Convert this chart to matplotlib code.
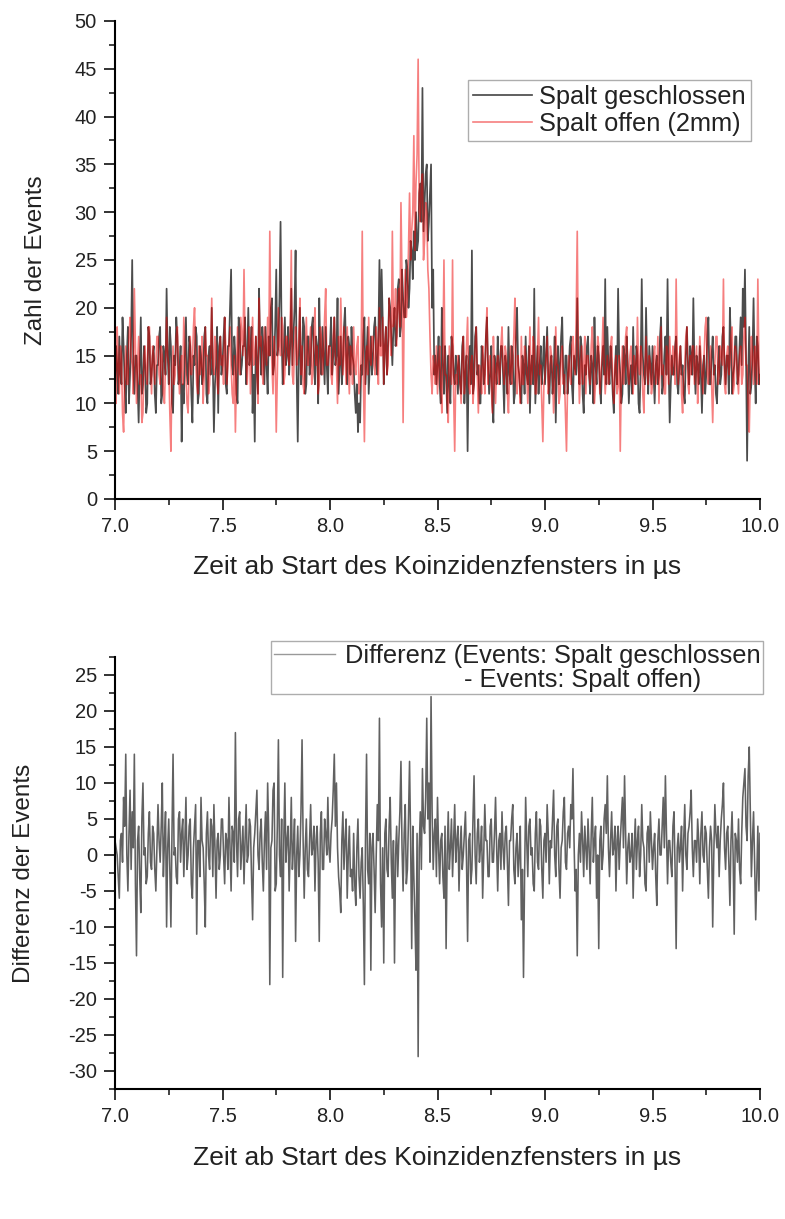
import numpy as np
import matplotlib
matplotlib.use("Agg")
import matplotlib.pyplot as plt
from matplotlib.lines import Line2D
from matplotlib.ticker import MultipleLocator, FormatStrFormatter

plt.rcParams['font.family'] = ['Liberation Sans', 'DejaVu Sans']
plt.rcParams['axes.unicode_minus'] = False

BIN_US = 0.005   # bin width in microseconds
T0_US = 7.0

# Events, slit closed (black), 0.005 us bins from 7.000 us
events_closed = [
    10,16,14,11,17,13,12,19,16,12,9,15,18,10,13,17,25,14,11,15,
    15,12,8,14,19,11,12,16,14,9,10,18,17,12,13,15,16,11,9,14,
    14,17,18,10,11,16,15,13,22,15,12,18,16,10,9,15,14,19,17,12,
    13,16,6,12,10,15,19,13,12,17,16,11,8,15,14,18,17,10,11,16,
    15,12,13,17,18,11,10,15,16,13,20,14,7,12,14,18,9,16,17,13,
    14,17,19,12,11,16,16,20,24,14,13,17,15,11,10,19,18,13,14,16,
    16,19,12,15,20,14,15,18,9,13,6,17,14,11,22,16,13,18,16,12,
    18,14,11,17,15,20,21,13,14,18,24,15,16,21,29,17,12,15,19,14,
    15,18,13,16,22,14,17,20,26,13,6,15,20,12,14,19,18,11,12,17,
    17,13,14,18,19,15,12,17,16,10,21,15,13,18,15,12,18,14,11,16,
    16,19,13,15,19,14,15,21,11,14,17,12,14,18,20,15,12,17,16,13,
    18,15,14,11,9,12,7,10,8,14,13,17,19,12,15,18,11,14,17,13,
    15,18,19,14,13,17,25,16,24,19,12,16,18,13,16,21,20,17,14,18,
    20,16,17,22,23,17,18,24,21,19,19,25,24,20,22,27,26,23,28,25,
    30,26,27,32,33,29,43,28,31,34,35,27,29,32,35,20,24,13,15,12,
    14,17,12,10,20,14,11,16,13,9,15,12,10,17,16,13,12,15,14,11,
    15,12,11,16,17,10,13,15,5,14,16,12,26,11,12,17,18,13,14,10,
    10,16,15,12,13,17,19,14,11,13,16,10,8,15,14,12,17,14,12,16,
    16,13,9,15,14,11,18,13,12,16,15,10,11,17,20,14,13,11,10,15,
    14,11,17,13,12,16,9,14,15,12,22,10,13,16,11,14,16,12,14,17,
    12,15,18,13,10,14,15,11,13,17,8,14,16,12,14,17,19,13,11,15,
    15,11,13,16,17,12,10,15,14,13,21,14,12,17,16,11,9,14,13,16,
    17,13,11,15,14,10,19,14,12,16,15,12,10,14,16,13,23,12,18,14,
    12,16,14,11,9,13,16,12,22,15,13,10,11,16,15,12,17,14,10,13,
    14,11,18,13,12,16,15,10,9,14,23,15,13,12,20,14,11,16,14,12,
    16,13,10,14,15,12,13,17,19,11,12,15,17,13,23,14,8,12,15,13,
    13,16,17,12,11,14,16,13,14,11,10,15,18,14,12,16,15,13,21,14,
    11,15,14,12,16,13,9,14,15,11,13,17,19,12,12,15,17,13,14,11,
    10,14,16,12,13,17,18,14,12,15,15,11,20,16,11,13,14,17,17,12,
    13,16,19,14,22,18,24,15,4,13,18,11,12,15,21,14,10,17,16,12,
    13,
]

# Events, slit open 2 mm (red)
events_open = [
    13,10,18,14,11,16,15,9,7,13,16,12,12,17,19,15,14,11,22,16,
    10,14,17,12,13,8,9,15,16,13,12,18,18,14,11,16,15,12,14,17,
    17,13,12,16,15,11,10,14,19,15,14,9,5,13,16,12,13,17,18,14,
    11,14,15,12,19,16,13,10,9,14,17,13,14,18,20,15,12,11,16,13,
    14,17,10,13,18,15,15,11,12,16,21,14,13,17,16,12,11,15,17,14,
    15,12,19,16,12,14,16,18,14,11,10,15,7,13,18,14,13,19,17,15,
    24,16,14,12,16,18,11,15,19,14,15,17,13,10,21,16,17,13,12,18,
    16,14,19,15,28,17,14,11,17,15,7,13,20,16,15,19,18,12,13,17,
    17,15,14,18,26,13,12,16,18,14,15,17,21,13,16,12,11,15,19,14,
    14,16,18,12,13,17,20,14,16,11,12,18,17,13,15,19,22,14,14,16,
    16,13,12,17,19,15,14,10,17,14,21,16,13,18,15,12,18,14,11,16,
    15,12,18,14,13,16,17,11,12,15,28,13,6,14,16,13,19,15,14,17,
    17,14,13,18,16,12,20,15,15,19,12,16,18,13,14,21,17,15,28,18,
    19,22,16,20,22,18,31,23,8,20,24,19,21,26,32,25,28,30,38,26,
    33,36,46,30,29,33,34,25,27,31,30,24,22,17,13,11,15,14,12,16,
    11,14,16,12,9,15,25,13,13,10,8,16,14,12,25,11,5,13,12,15,
    14,12,10,15,17,11,13,16,19,12,11,14,15,10,12,16,18,13,9,14,
    13,11,16,14,11,17,20,12,14,15,12,9,17,13,10,14,15,12,13,16,
    18,14,12,16,15,11,9,13,16,12,14,17,21,13,11,15,13,10,17,12,
    12,16,15,13,10,14,18,12,13,17,16,11,11,15,19,13,14,10,6,12,
    13,15,17,11,12,16,15,13,9,12,18,14,14,10,11,15,16,12,13,9,
    5,12,15,13,12,16,17,14,13,19,28,15,10,13,16,12,14,17,11,15,
    15,13,12,16,18,14,10,12,14,17,16,11,13,15,19,14,11,13,15,12,
    13,16,17,12,10,14,15,11,12,15,5,13,16,12,14,17,18,13,12,15,
    16,13,11,15,14,12,19,14,13,16,15,11,9,14,17,13,12,15,14,11,
    12,15,16,12,13,17,10,14,18,13,14,11,11,16,15,12,17,14,13,16,
    15,12,23,14,12,15,16,11,9,13,14,17,18,12,11,15,13,16,16,12,
    14,16,10,13,17,15,13,11,15,18,19,13,12,14,16,12,8,13,14,17,
    17,12,13,16,15,14,23,12,11,15,16,13,14,17,18,11,12,16,15,13,
    11,15,16,12,13,17,19,14,14,10,7,13,17,15,12,16,15,12,23,14,
    12,
]

# Difference of events (closed - open)
events_diff = [
    2,1,0,-3,-6,2,3,-1,8,4,14,0,-5,3,9,-2,6,1,14,-4,
    -14,2,4,-3,-8,5,10,0,1,-4,-3,3,6,-1,-2,4,3,-2,-5,1,
    7,2,-1,4,10,-3,2,6,-10,1,5,-2,-10,3,14,0,1,-3,-4,5,
    6,-1,3,5,-3,2,8,-2,0,4,5,-4,-6,1,4,7,-11,2,2,-3,
    8,2,1,-4,-10,3,6,0,-2,5,4,-3,7,1,-6,2,3,-2,0,5,
    5,0,-4,3,2,-2,8,1,-5,4,3,-1,17,2,-3,5,6,-2,1,4,
    -4,2,7,-1,0,5,4,-3,-9,1,3,6,9,0,-2,3,5,-1,-5,2,
    6,-2,10,3,-18,1,2,9,10,-5,-4,4,16,0,-3,5,-17,2,10,-1,
    2,4,-5,1,8,-2,1,5,-12,0,4,-3,0,6,16,2,-6,1,5,-2,
    -3,2,7,0,1,4,-5,2,4,-1,-12,3,6,-2,-2,5,3,0,8,1,
    -1,3,5,9,14,4,10,1,-3,-5,-8,2,6,-2,2,5,-6,0,4,-3,
    -2,-5,3,-4,-7,1,5,-3,-6,-1,1,-7,-18,2,14,-2,-4,3,-16,1,
    3,-2,-8,0,7,2,19,-4,-10,1,-15,3,5,-2,-3,4,8,-1,-6,2,
    -15,0,4,-3,2,6,13,1,-5,3,7,-4,-2,5,13,2,-13,4,-3,-9,
    -16,3,-28,1,6,-2,12,4,3,8,19,5,10,-1,22,6,-2,3,5,-3,
    8,1,-4,2,3,-3,-6,4,-13,0,6,-2,1,5,-3,2,7,-1,2,4,
    -5,1,4,-2,0,3,6,-1,-12,2,3,-4,-2,5,11,0,-4,3,5,-1,
    1,4,-6,0,7,2,2,-3,-3,4,5,-1,-1,3,8,1,-5,2,3,-2,
    6,1,-2,3,4,-1,-7,2,2,5,7,-2,-4,1,3,-3,0,4,-9,-2,
    -17,-3,8,2,-3,4,5,0,1,-4,-5,3,6,-1,-2,5,4,-2,-6,2,
    3,-1,7,3,-4,2,1,5,9,0,-3,4,5,-2,-6,1,2,6,8,-1,
    -2,3,4,1,7,5,12,2,-5,-2,-14,0,3,-1,6,2,-3,4,1,-2,
    5,1,-4,3,8,-1,2,4,-6,0,-13,2,4,-2,0,5,7,3,11,1,
    -3,2,6,0,1,4,-5,2,4,-2,2,5,8,1,11,3,-4,1,3,-1,
    0,3,-6,1,5,-2,2,4,-3,0,7,2,1,-4,-5,3,4,-1,6,2,
    -2,1,3,-3,-7,2,5,0,0,4,8,1,11,3,-4,2,2,-1,-3,4,
    6,-2,-13,1,3,-1,1,4,-5,2,7,0,-2,3,4,6,9,1,-3,2,
    2,-1,5,2,-4,3,6,0,-1,4,3,-2,-6,1,4,2,-10,0,7,3,
    1,4,-3,2,5,7,10,1,-2,3,4,-1,-7,2,6,0,-11,3,2,-1,
    5,-2,-4,3,8,10,12,4,2,11,15,6,-3,2,6,-1,-9,-3,4,-5,
    3,
]

def times(values):
    return T0_US + BIN_US * np.arange(len(values))

label_closed = "Spalt geschlossen"
label_open = "Spalt offen (2mm)"
label_diff_1 = "Differenz (Events: Spalt geschlossen"
label_diff_2 = "                 - Events: Spalt offen)"
xlabel = "Zeit ab Start des Koinzidenzfensters in µs"
ylabel_top = "Zahl der Events"
ylabel_bot = "Differenz der Events"

W, H = 785, 1219
fig = plt.figure(figsize=(W / 100, H / 100), dpi=100)

def px_axes(l, t, r, b):
    return fig.add_axes([l / W, 1 - b / H, (r - l) / W, (b - t) / H])

TICK_FS = 14.5
YLABEL_FS = 17.5
XLABEL_FS = 19
LEG_FS = 18.3
TXT = '#222222'

def style(ax):
    for s in ('top', 'right'):
        ax.spines[s].set_visible(False)
    for s in ('left', 'bottom'):
        ax.spines[s].set_linewidth(1.5)
    ax.tick_params(which='major', direction='out', length=8, width=1.3,
                   labelsize=TICK_FS, pad=5, colors=TXT)
    ax.tick_params(which='minor', direction='out', length=4, width=1.2,
                   colors=TXT)
    ax.set_xlim(7.0, 10.0)
    ax.xaxis.set_major_locator(MultipleLocator(0.5))
    ax.xaxis.set_minor_locator(MultipleLocator(0.25))
    ax.xaxis.set_major_formatter(FormatStrFormatter('%.1f'))

# ---- top panel ----
ax1 = px_axes(115, 21, 760, 499)
style(ax1)
ax1.plot(times(events_closed), events_closed, color='black', lw=1.25,
         alpha=0.7, label=label_closed)
ax1.plot(times(events_open), events_open, color='#ee0000', lw=1.2,
         alpha=0.5, label=label_open)
ax1.set_ylim(0, 50)
ax1.yaxis.set_major_locator(MultipleLocator(5))
ax1.yaxis.set_minor_locator(MultipleLocator(2.5))
ax1.set_xlabel(xlabel, fontsize=XLABEL_FS, labelpad=14, color=TXT)
ax1.set_ylabel(ylabel_top, fontsize=YLABEL_FS, labelpad=20, color=TXT)
leg1 = ax1.legend(loc='upper right', bbox_to_anchor=(751 / W, 1 - 80 / H),
                  bbox_transform=fig.transFigure, fontsize=LEG_FS,
                  frameon=True, fancybox=False, edgecolor='#999999',
                  borderaxespad=0, handlelength=2.3, handletextpad=0.3,
                  borderpad=0.2, labelspacing=0.12)
leg1.get_frame().set_linewidth(1.0)
for t in leg1.get_texts():
    t.set_color(TXT)

# ---- bottom panel ----
ax2 = px_axes(115, 657, 760, 1089)
style(ax2)
ax2.plot(times(events_diff), events_diff, color='#3a3a3a', lw=1.15, alpha=0.8)
ax2.set_ylim(-32.5, 27.5)
ax2.yaxis.set_major_locator(MultipleLocator(5))
ax2.yaxis.set_minor_locator(MultipleLocator(2.5))
ax2.set_xlabel(xlabel, fontsize=XLABEL_FS, labelpad=14, color=TXT)
ax2.set_ylabel(ylabel_bot, fontsize=YLABEL_FS, labelpad=24, color=TXT)
h1 = Line2D([], [], color='#999999', lw=1.0)
h2 = Line2D([], [], color='none', lw=0)
leg2 = ax2.legend([h1, h2], [label_diff_1, label_diff_2], loc='upper right',
                  bbox_to_anchor=(763 / W, 1 - 641 / H),
                  bbox_transform=fig.transFigure, fontsize=LEG_FS,
                  frameon=True, fancybox=False, edgecolor='#999999',
                  borderaxespad=0, handlelength=2.4, handletextpad=0.4,
                  borderpad=0.1, labelspacing=0.0)
leg2.get_frame().set_linewidth(1.0)
for t in leg2.get_texts():
    t.set_color(TXT)

fig.savefig("out.png", dpi=100, facecolor='white')
